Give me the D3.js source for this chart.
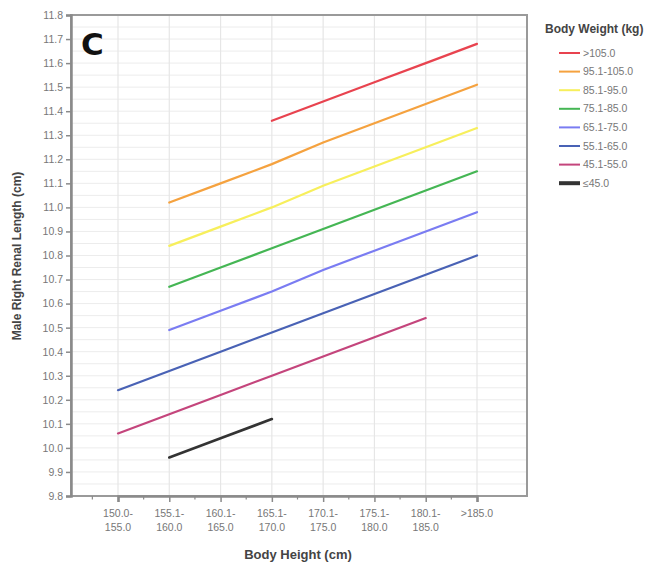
<!DOCTYPE html>
<html><head><meta charset="utf-8">
<script src="https://cdn.jsdelivr.net/npm/d3@7"></script>
<style>body{margin:0;background:#fff}svg{display:block;font-family:"Liberation Sans",Arial,sans-serif}</style>
</head><body><svg id="c" width="654" height="570"></svg>
<script>
const categories = ["150.0-155.0","155.1-160.0","160.1-165.0","165.1-170.0","170.1-175.0","175.1-180.0","180.1-185.0",">185.0"];
const seriesNames = [">105.0","95.1-105.0","85.1-95.0","75.1-85.0","65.1-75.0","55.1-65.0","45.1-55.0","\u226445.0"];
const seriesColors = ["#e8434f","#f5a23f","#f7ef5c","#45b654","#7a7cf2","#4962b5","#c4457c","#333333"];
const red    = [null,null,null,11.36,11.44,11.52,11.60,11.68];
const orange = [null,11.02,11.10,11.18,11.27,11.35,11.43,11.51];
const yellow = [null,10.84,10.92,11.00,11.09,11.17,11.25,11.33];
const green  = [null,10.67,10.75,10.83,10.91,10.99,11.07,11.15];
const ltblue = [null,10.49,10.57,10.65,10.74,10.82,10.90,10.98];
const dkblue = [10.24,10.32,10.40,10.48,10.56,10.64,10.72,10.80];
const pink   = [10.06,10.14,10.22,10.30,10.38,10.46,10.54,null];
const black  = [null,9.96,10.04,10.12,null,null,null,null];
const seriesValues = [red,orange,yellow,green,ltblue,dkblue,pink,black];
const yTicks = d3.range(0,21).map(i => +(9.8 + i*0.1).toFixed(1));
const yGrid = d3.range(0,41).map(i => +(9.8 + i*0.05).toFixed(2));

const svg = d3.select("#c");
const L = 71, R = 527, T = 15, B = 496;
const step = (477-118)/7;
const x = d3.scalePoint().domain(categories).range([118,477]);
const y = d3.scaleLinear().domain([9.8,11.8]).range([B,T]);

// grid
svg.append("g").selectAll("line").data(yGrid).join("line")
  .attr("x1",L).attr("x2",R).attr("y1",d=>y(d)).attr("y2",d=>y(d))
  .attr("stroke","#ececec").attr("stroke-width",1);
svg.append("g").selectAll("line").data(categories).join("line")
  .attr("x1",d=>x(d)).attr("x2",d=>x(d)).attr("y1",T).attr("y2",B)
  .attr("stroke","#e6e6e6").attr("stroke-width",1.2);

// frame
svg.append("rect").attr("x",L).attr("y",T).attr("width",R-L).attr("height",B-T)
  .attr("fill","none").attr("stroke","#9a9a9a").attr("stroke-width",2);

// y axis
const yAxis = svg.append("g").attr("transform",`translate(${L},0)`)
  .call(d3.axisLeft(y).tickValues(yTicks).tickFormat(d3.format(".1f")).tickSize(5).tickPadding(3));
yAxis.select(".domain").attr("stroke","#8a8a8a").attr("stroke-width",2.5);
yAxis.selectAll(".tick line").attr("stroke","#8a8a8a").attr("stroke-width",1.5);
yAxis.selectAll(".tick text").attr("fill","#777").attr("font-size",10.5).attr("font-family","Liberation Sans, Arial, sans-serif");

// x axis
const xAxis = svg.append("g").attr("transform",`translate(0,${B})`)
  .call(d3.axisBottom(x).tickSize(6).tickFormat(""));
xAxis.select(".domain").attr("stroke","#8a8a8a").attr("stroke-width",2.5);
xAxis.selectAll(".tick line").attr("stroke","#8a8a8a").attr("stroke-width",1.5);
// minor ticks at band boundaries
const minor = categories.map(c => x(c) - step/2);
svg.append("g").selectAll("line").data(minor).join("line")
  .attr("x1",d=>d).attr("x2",d=>d).attr("y1",B).attr("y2",B+3.5)
  .attr("stroke","#8a8a8a").attr("stroke-width",1.2);
// tick labels (two lines)
const xl = svg.append("g").attr("fill","#777").attr("font-size",10.5).attr("text-anchor","middle");
categories.forEach(c => {
  const i = c.indexOf("-");
  const lines = i>0 ? [c.slice(0,i+1), c.slice(i+1)] : [c];
  const t = xl.append("text").attr("x",x(c)).attr("y",517);
  lines.forEach((s,k) => t.append("tspan").attr("x",x(c)).attr("dy",k? 14:0).text(s));
});

// axis titles
svg.append("text").attr("x",298).attr("y",559).attr("text-anchor","middle")
  .attr("font-size",13).attr("font-weight","bold").attr("fill","#444").text("Body Height (cm)");
svg.append("text").attr("transform","translate(21,256) rotate(-90)").attr("text-anchor","middle")
  .attr("font-size",12).attr("font-weight","bold").attr("fill","#444").text("Male Right Renal Length (cm)");

// panel letter
svg.append("text").attr("x",81).attr("y",55).attr("font-size",31).attr("font-weight","bold")
  .attr("fill","#111").attr("font-family","DejaVu Sans, sans-serif").text("C");

// lines
const line = d3.line().defined(d=>d.v!==null).x(d=>x(d.c)).y(d=>y(d.v));
seriesValues.forEach((vals,si) => {
  const data = categories.map((c,i)=>({c, v: vals[i]}));
  svg.append("path").datum(data).attr("d",line).attr("fill","none")
    .attr("stroke",seriesColors[si]).attr("stroke-width", si===7 ? 2.6 : 2.2).attr("stroke-linecap","round");
});

// legend
svg.append("text").attr("x",545).attr("y",33).attr("font-size",12).attr("font-weight","bold")
  .attr("fill","#444").text("Body Weight (kg)");
const lg = svg.append("g");
seriesNames.forEach((n,i) => {
  const yy = 53 + i*18.6;
  lg.append("line").attr("x1",559).attr("x2",580).attr("y1",yy).attr("y2",yy)
    .attr("stroke",seriesColors[i]).attr("stroke-width", i===7 ? 4 : 2);
  lg.append("text").attr("x",583).attr("y",yy+3.5).attr("font-size",10.5).attr("fill","#777").text(n);
});
</script></body></html>
